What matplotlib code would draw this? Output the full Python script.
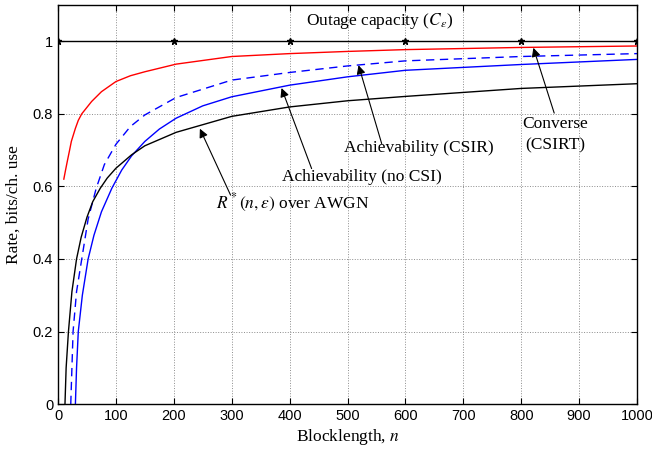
import numpy as np
import matplotlib
matplotlib.use("Agg")
from matplotlib import pyplot as plt
from matplotlib.ticker import FuncFormatter

# values
n_awgn = [12, 14, 18, 24, 32, 40, 50, 60, 73, 85, 100, 127, 150, 204, 300, 400, 500, 600, 800, 1000]
r_awgn = [0.0, 0.10, 0.20, 0.31, 0.40, 0.46, 0.515, 0.558, 0.595, 0.623, 0.650, 0.687, 0.712, 0.749, 0.793, 0.819, 0.836, 0.848, 0.870, 0.883]

n_csir = [22, 24, 26, 32, 41, 52, 66, 80, 100, 125, 150, 204, 300, 400, 500, 600, 800, 1000]
r_csir = [0.0, 0.10, 0.20, 0.31, 0.40, 0.51, 0.595, 0.66, 0.716, 0.765, 0.797, 0.845, 0.893, 0.914, 0.932, 0.946, 0.958, 0.966]

n_nocsi = [30, 32, 35, 42, 52, 62, 75, 93, 110, 127, 150, 175, 204, 250, 300, 400, 500, 600, 800, 1000]
r_nocsi = [0.0, 0.10, 0.20, 0.30, 0.40, 0.465, 0.53, 0.595, 0.645, 0.684, 0.724, 0.758, 0.788, 0.822, 0.847, 0.879, 0.902, 0.920, 0.936, 0.950]

n_conv = [10, 13, 16, 20, 23, 30, 35, 41, 50, 58, 75, 100, 125, 150, 204, 300, 400, 500, 600, 800, 1000]
r_conv = [0.62, 0.645, 0.669, 0.70, 0.724, 0.76, 0.782, 0.80, 0.818, 0.834, 0.861, 0.889, 0.905, 0.916, 0.937, 0.958, 0.966, 0.972, 0.977, 0.983, 0.987]

n_out = [0, 200, 400, 600, 800, 1000]
r_out = [1, 1, 1, 1, 1, 1]

plt.rcParams['mathtext.fontset'] = 'stix'
serif = 'Liberation Serif'
sans = 'Liberation Sans'

fig = plt.figure(figsize=(6.52, 4.54), dpi=100)
ax = fig.add_axes([0.089, 0.110, 0.888, 0.879])

ax.plot(n_out, r_out, '-*', color='k', lw=1.0, ms=5)
ax.plot(n_conv, r_conv, '-', color='red', lw=1.0)
ax.plot(n_csir, r_csir, '--', color='blue', lw=1.0, dashes=(6, 4))
ax.plot(n_nocsi, r_nocsi, '-', color='blue', lw=1.0)
ax.plot(n_awgn, r_awgn, '-', color='k', lw=1.0)

ax.set_xlim(0, 1000)
ax.set_ylim(0, 1.1)
ax.set_xticks(np.arange(0, 1001, 100))
ax.set_yticks([0, 0.2, 0.4, 0.6, 0.8, 1.0])
ax.yaxis.set_major_formatter(FuncFormatter(lambda v, p: '%g' % v))
ax.grid(True, linestyle=':', color='0.55', lw=0.7)
ax.tick_params(direction='in', length=4, top=True, right=True, labelsize=10.5)
for lab in ax.get_xticklabels() + ax.get_yticklabels():
    lab.set_family(sans)
for s in ax.spines.values():
    s.set_linewidth(1.0)

ax.set_xlabel('Blocklength, $n$', family=serif, fontsize=12.5, labelpad=3)
ax.set_ylabel('Rate, bits/ch. use', family=serif, fontsize=12.5, labelpad=8)

# labels and arrows
arrow = dict(arrowstyle='-|>', color='k', lw=0.8, mutation_scale=13,
             shrinkA=0, shrinkB=0)
ax.text(556, 1.056, r'Outage capacity ($C_\epsilon$)', family=serif, fontsize=12.5,
        ha='center', va='center')

ax.annotate('', xy=(821, 0.982), xytext=(857, 0.802), arrowprops=arrow)
ax.text(858, 0.742, 'Converse\n(CSIRT)', family=serif, fontsize=12.5,
        ha='center', va='center', linespacing=1.45)

ax.annotate('', xy=(519, 0.934), xytext=(559, 0.718), arrowprops=arrow)
ax.text(623, 0.705, 'Achievability (CSIR)', family=serif, fontsize=12.5,
        ha='center', va='center')

ax.annotate('', xy=(386, 0.871), xytext=(438, 0.649), arrowprops=arrow)
ax.text(525, 0.626, 'Achievability (no CSI)', family=serif, fontsize=12.5,
        ha='center', va='center')

ax.annotate('', xy=(245, 0.759), xytext=(298, 0.576), arrowprops=arrow)
ax.text(405, 0.554, r'$R^*(n,\epsilon)$ over AWGN', family=serif, fontsize=12.5,
        ha='center', va='center')

fig.savefig('out.png', dpi=100)
